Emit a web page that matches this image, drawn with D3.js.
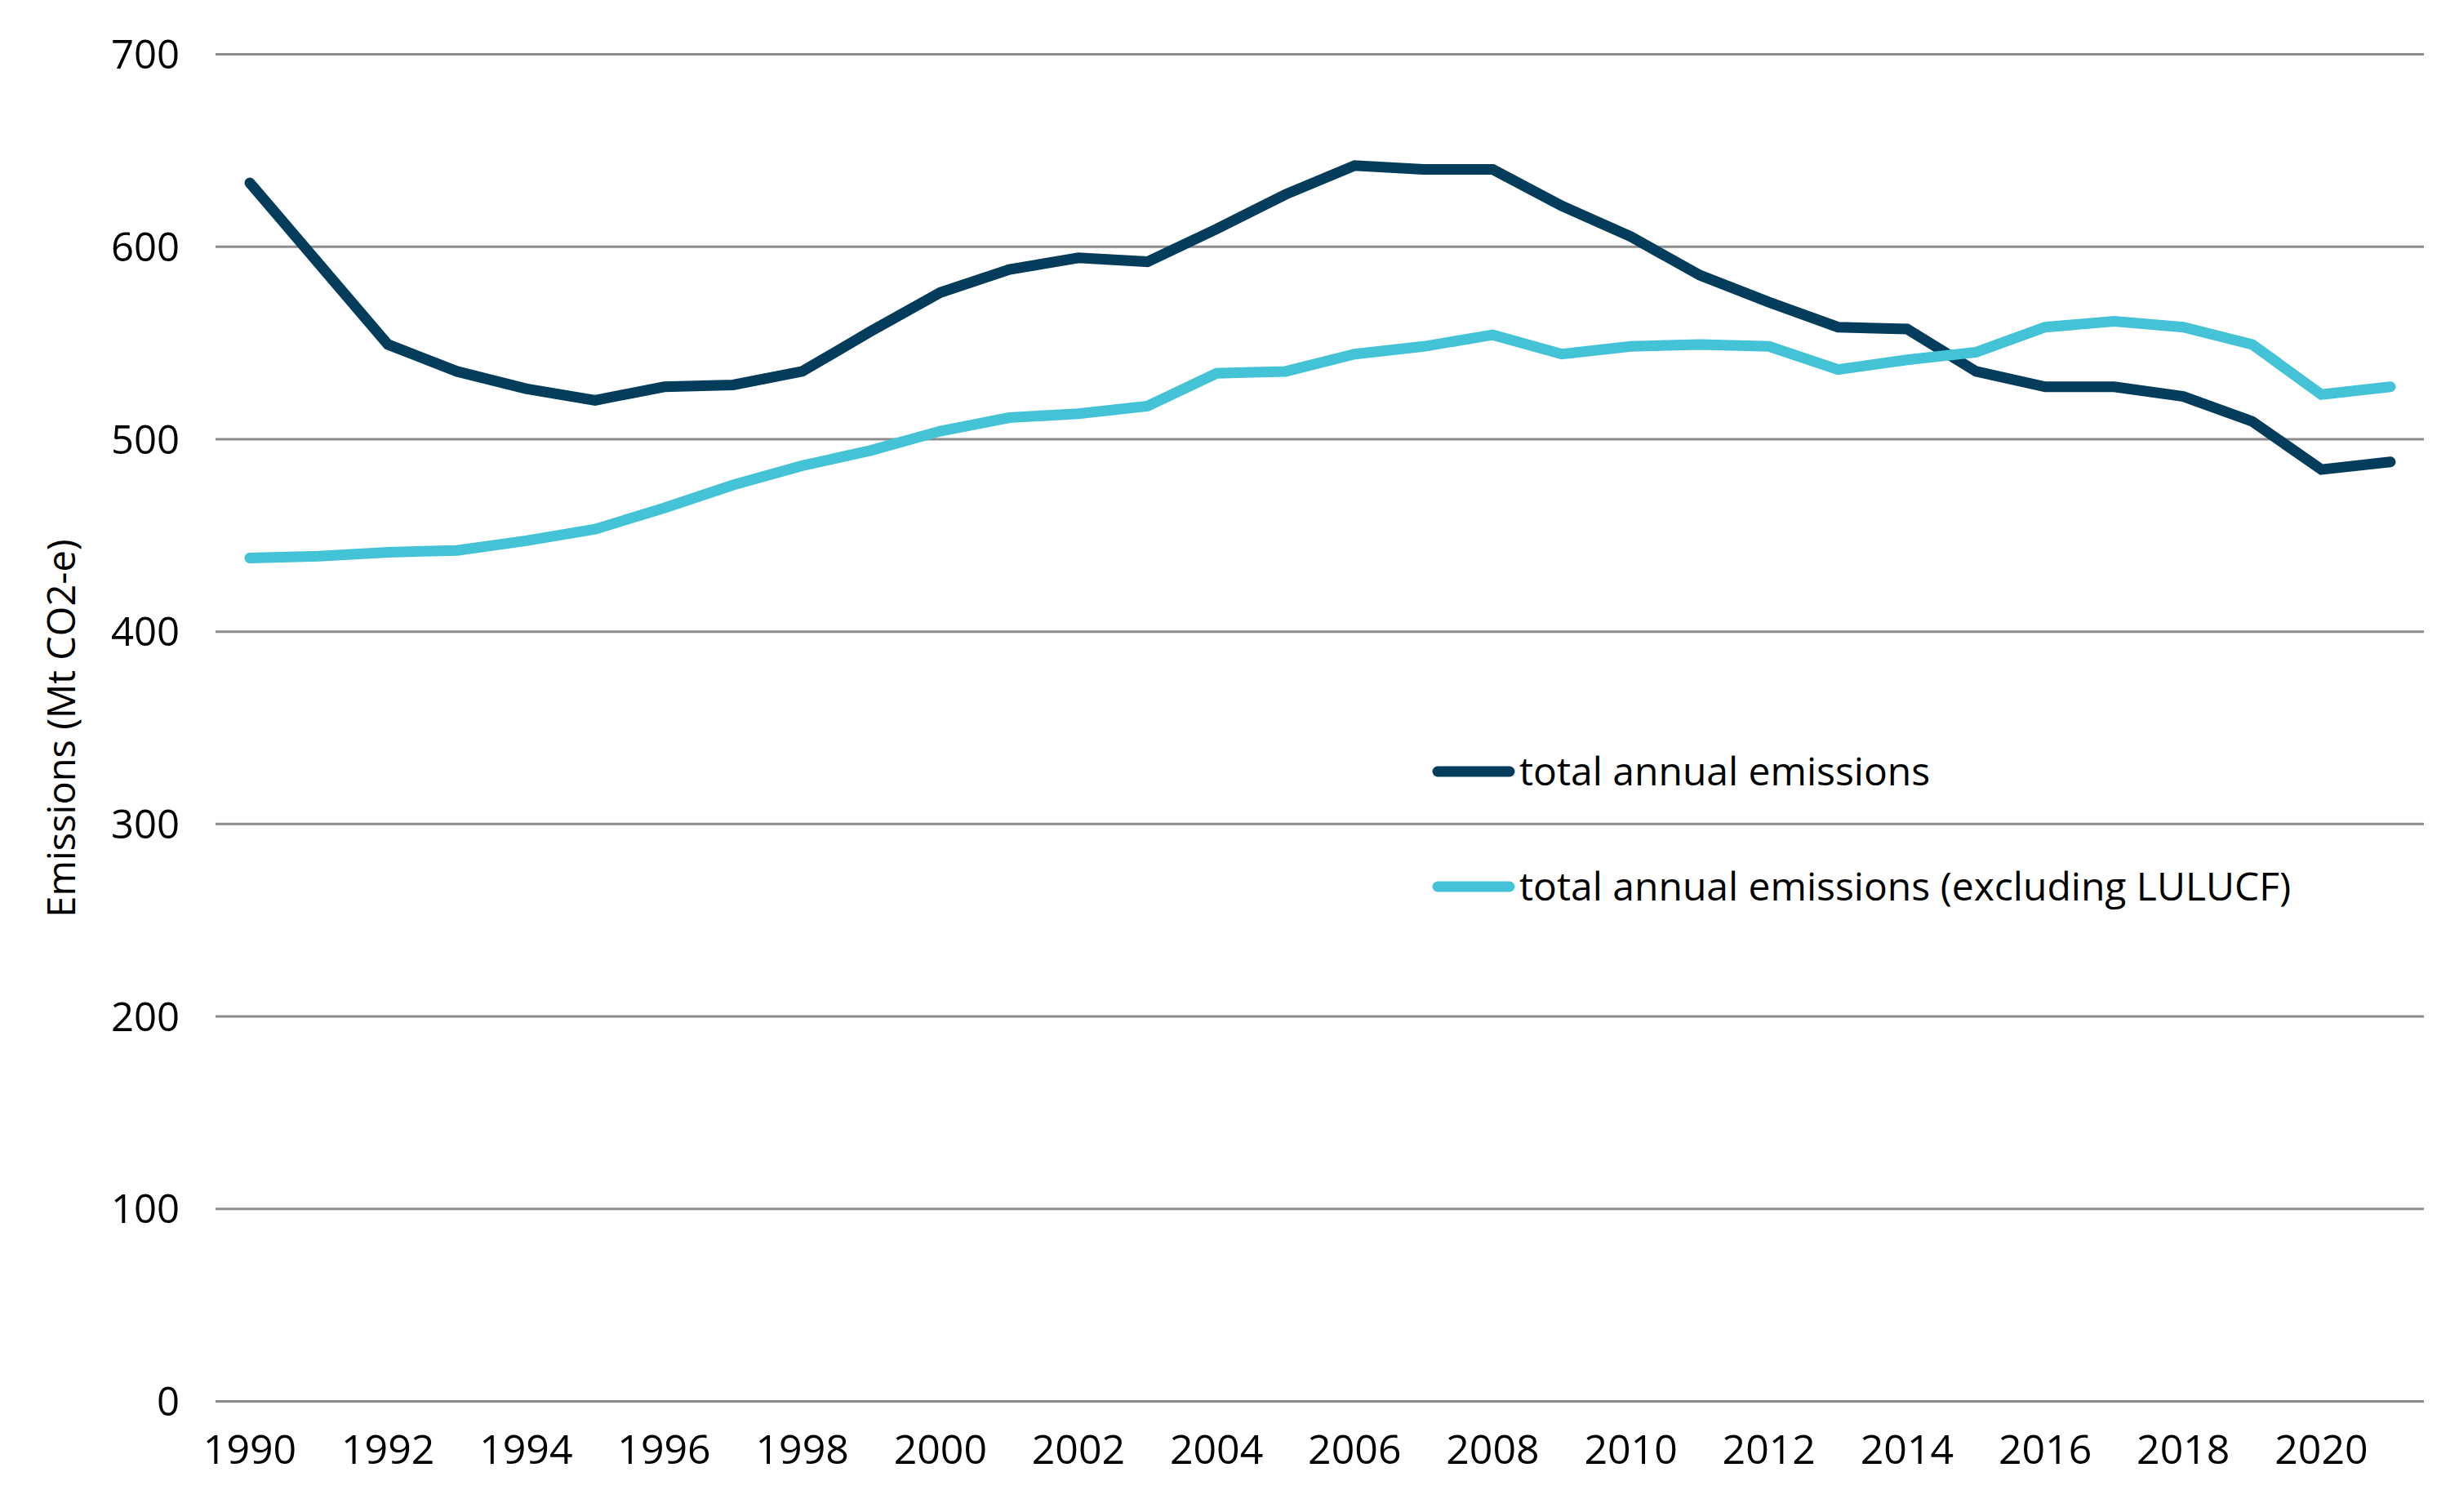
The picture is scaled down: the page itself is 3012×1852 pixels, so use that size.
<!DOCTYPE html>
<html lang="en">
<head>
<meta charset="utf-8">
<title>Emissions</title>
<script src="https://cdn.jsdelivr.net/npm/d3@7"></script>
<style>
  body { margin: 0; background: #fff; }
  text { font-family: "Open Sans", sans-serif; fill: #000; }
  .grid line { stroke: #8c8c8c; stroke-width: 3px; }
  .grid .domain { display: none; }
</style>
</head>
<body>
<script>
var years = d3.range(1990, 2022);
var totalEmissions = [633, 591, 549, 535, 526, 520, 527, 528, 535, 556, 576, 588, 594, 592, 609, 627,
                      642, 640, 640, 621, 605, 585, 571, 558, 557, 535, 527, 527, 522, 509, 484, 488];
var exclLulucf = [438, 439, 441, 442, 447, 453, 464, 476, 486, 494, 504, 511, 513, 517, 534, 535,
                  544, 548, 554, 544, 548, 549, 548, 536, 541, 545, 558, 561, 558, 549, 523, 527];
var yTicks = [0, 100, 200, 300, 400, 500, 600, 700];
var seriesNames = ["total annual emissions", "total annual emissions (excluding LULUCF)"];
var seriesColors = ["#033d5b", "#44c2d6"];

var W = 3012, H = 1852;
var plotLeft = 264, plotRight = 2969, plotTop = 66, plotBottom = 1716;

var svg = d3.select("body").append("svg")
    .attr("width", W)
    .attr("height", H);

var x = d3.scalePoint().domain(years).range([306, 2928]);
var y = d3.scaleLinear().domain([0, 700]).range([plotBottom, plotTop]);

// grid lines + y labels
var yAxis = svg.append("g")
    .attr("class", "grid")
    .attr("transform", "translate(" + plotLeft + ",0)")
    .call(d3.axisLeft(y).tickValues(yTicks).tickSize(-(plotRight - plotLeft)).tickPadding(44));
yAxis.selectAll("text")
    .attr("font-size", "49px")
    .attr("font-family", "Open Sans")
    .attr("dy", "0.36em")
    .attr("fill", "#000");

// x labels every other year
svg.append("g")
  .selectAll("text")
  .data(years.filter(function(d) { return d % 2 === 0; }))
  .enter()
  .append("text")
    .attr("x", function(d) { return x(d); })
    .attr("y", 1793)
    .attr("text-anchor", "middle")
    .attr("font-size", "50px")
    .text(function(d) { return d; });

// y title
svg.append("text")
    .attr("transform", "translate(92,892) rotate(-90)")
    .attr("text-anchor", "middle")
    .attr("font-size", "47px")
    .text("Emissions (Mt CO2-e)");

var line = d3.line()
    .x(function(d, i) { return x(years[i]); })
    .y(function(d) { return y(d); });

[totalEmissions, exclLulucf].forEach(function(s, i) {
  svg.append("path")
      .datum(s)
      .attr("d", line)
      .attr("fill", "none")
      .attr("stroke", seriesColors[i])
      .attr("stroke-width", 13)
      .attr("stroke-linecap", "round")
      .attr("stroke-linejoin", "miter");
});

// legend
var legY = [945, 1086];
seriesNames.forEach(function(name, i) {
  svg.append("line")
      .attr("x1", 1761).attr("x2", 1849)
      .attr("y1", legY[i]).attr("y2", legY[i])
      .attr("stroke", seriesColors[i])
      .attr("stroke-width", 13)
      .attr("stroke-linecap", "round");
  svg.append("text")
      .attr("x", 1861)
      .attr("y", legY[i] + 17)
      .attr("font-size", "48px")
      .text(name);
});
</script>
</body>
</html>
